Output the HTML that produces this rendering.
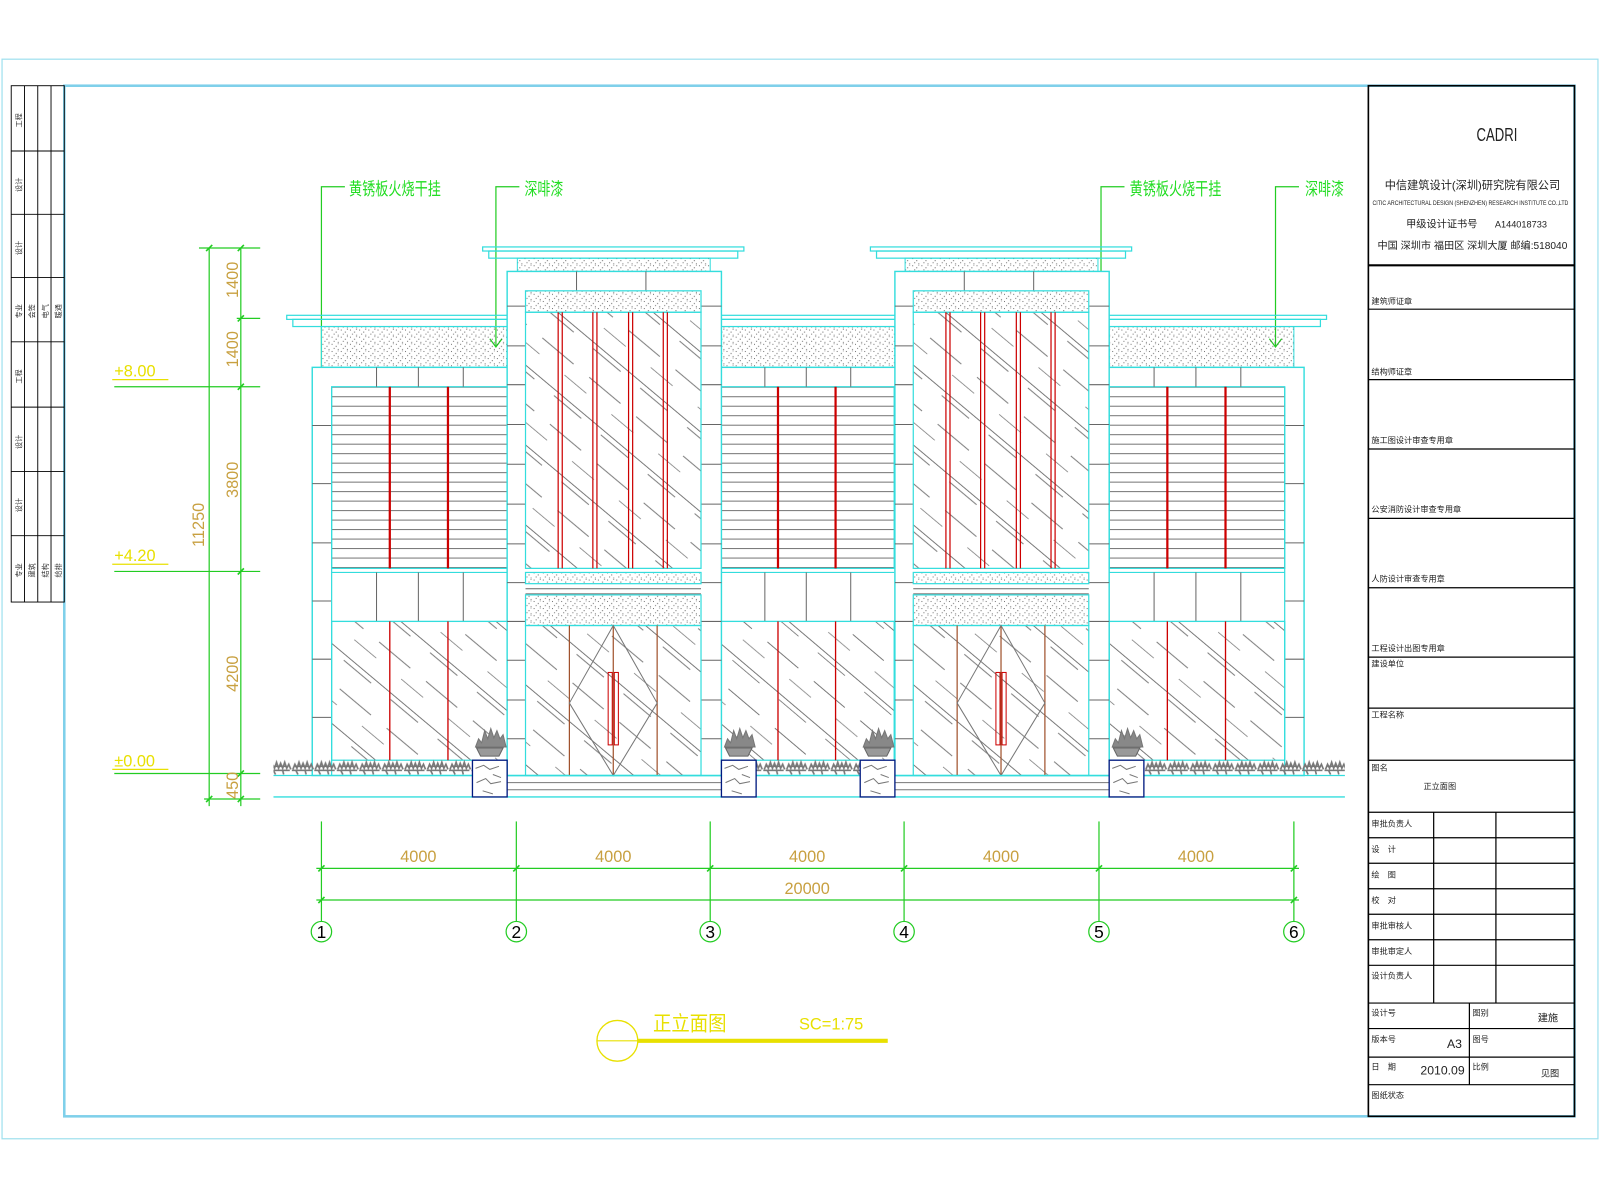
<!DOCTYPE html>
<html><head><meta charset="utf-8"><style>
html,body{margin:0;padding:0;background:#fff;}
svg{display:block}
text{font-family:"Liberation Sans","Noto Sans CJK SC",sans-serif;}
</style></head><body>
<svg width="1600" height="1200" viewBox="0 0 1568 1176" preserveAspectRatio="none" xmlns="http://www.w3.org/2000/svg">
<defs>
<pattern id="hatch" width="60" height="60" patternUnits="userSpaceOnUse" patternTransform="rotate(40)">
<line x1="0" y1="3" x2="60" y2="3" stroke="#666" stroke-width="0.8"/>
<line x1="5" y1="8" x2="40" y2="8" stroke="#666" stroke-width="0.8"/>
<line x1="20" y1="32" x2="60" y2="32" stroke="#666" stroke-width="0.8"/>
<line x1="0" y1="46" x2="28" y2="46" stroke="#777" stroke-width="0.7"/>
</pattern>
<pattern id="dots" width="9" height="7" patternUnits="userSpaceOnUse">
<rect x="1" y="1" width="0.9" height="0.9" fill="#555"/><rect x="5" y="3" width="0.9" height="0.9" fill="#444"/>
<rect x="3" y="5" width="0.9" height="0.9" fill="#555"/><rect x="7" y="6" width="0.9" height="0.9" fill="#666"/>
<rect x="7" y="0.5" width="0.8" height="0.8" fill="#666"/>
</pattern>
<pattern id="siding" width="10" height="9.3" patternUnits="userSpaceOnUse" y="379">
<line x1="0" y1="0.5" x2="10" y2="0.5" stroke="#666" stroke-width="0.9"/>
</pattern>
<pattern id="shrub" width="22" height="16" patternUnits="userSpaceOnUse" y="744">
<path d="M1 10 l2 -5 l2 4 l2 -6 l2 6 l2 -5 l2 5 l2 -6 l2 6 l2 -4 l2 5 M0 11 h20 M4 11 l2 4 M13 11 l1 4 M3 7 h14" stroke="#777" stroke-width="1.6" fill="none"/>
</pattern>
<g id="infill">
<rect x="0" y="379" width="172" height="178" fill="url(#siding)" stroke="#33dddd" stroke-width="1.2"/>
<line x1="57" y1="379" x2="57" y2="557" stroke="#c00" stroke-width="2.2"/>
<line x1="114" y1="379" x2="114" y2="557" stroke="#c00" stroke-width="2.2"/>
<line x1="0" y1="561" x2="172" y2="561" stroke="#33dddd" stroke-width="1.2"/>
<line x1="0" y1="609" x2="172" y2="609" stroke="#33dddd" stroke-width="1.2"/>
<line x1="44" y1="561" x2="44" y2="609" stroke="#666"/><line x1="85" y1="561" x2="85" y2="609" stroke="#666"/><line x1="129" y1="561" x2="129" y2="609" stroke="#666"/>
<line x1="44" y1="360" x2="44" y2="379" stroke="#666"/><line x1="85" y1="360" x2="85" y2="379" stroke="#666"/><line x1="129" y1="360" x2="129" y2="379" stroke="#666"/>
<rect x="0" y="609" width="172" height="136" fill="url(#hatch)" stroke="#33dddd" stroke-width="1.2"/>
<line x1="57" y1="609" x2="57" y2="745" stroke="#c00" stroke-width="1.3"/>
<line x1="114" y1="609" x2="114" y2="745" stroke="#c00" stroke-width="1.3"/>
</g>
<g id="tower">
<rect x="473" y="242" width="256" height="4" fill="none" stroke="#33dddd" stroke-width="1.2"/>
<rect x="479" y="246" width="244" height="7" fill="none" stroke="#33dddd" stroke-width="1.2"/>
<rect x="507" y="253" width="189" height="13" fill="url(#dots)" stroke="#33dddd" stroke-width="1"/>
<rect x="497" y="266" width="210" height="494" fill="#fff" stroke="#33dddd" stroke-width="1.4"/>
<line x1="565" y1="266" x2="565" y2="285" stroke="#666"/><line x1="633" y1="266" x2="633" y2="285" stroke="#666"/>
<g stroke="#666">
<line x1="497" y1="300" x2="515" y2="300"/><line x1="497" y1="339" x2="515" y2="339"/><line x1="497" y1="377" x2="515" y2="377"/><line x1="497" y1="416" x2="515" y2="416"/><line x1="497" y1="455" x2="515" y2="455"/><line x1="497" y1="494" x2="515" y2="494"/><line x1="497" y1="533" x2="515" y2="533"/><line x1="497" y1="571" x2="515" y2="571"/><line x1="497" y1="609" x2="515" y2="609"/><line x1="497" y1="647" x2="515" y2="647"/><line x1="497" y1="686" x2="515" y2="686"/><line x1="497" y1="724" x2="515" y2="724"/>
<line x1="687" y1="300" x2="707" y2="300"/><line x1="687" y1="339" x2="707" y2="339"/><line x1="687" y1="377" x2="707" y2="377"/><line x1="687" y1="416" x2="707" y2="416"/><line x1="687" y1="455" x2="707" y2="455"/><line x1="687" y1="494" x2="707" y2="494"/><line x1="687" y1="533" x2="707" y2="533"/><line x1="687" y1="571" x2="707" y2="571"/><line x1="687" y1="609" x2="707" y2="609"/><line x1="687" y1="647" x2="707" y2="647"/><line x1="687" y1="686" x2="707" y2="686"/><line x1="687" y1="724" x2="707" y2="724"/>
</g>
<rect x="515" y="285" width="172" height="21" fill="url(#dots)" stroke="#33dddd" stroke-width="1.2"/>
<rect x="515" y="306" width="172" height="251" fill="url(#hatch)" stroke="#33dddd" stroke-width="1.2"/>
<g stroke="#c00" stroke-width="1.2">
<line x1="547" y1="306" x2="547" y2="557"/><line x1="551" y1="306" x2="551" y2="557"/>
<line x1="581" y1="306" x2="581" y2="557"/><line x1="585" y1="306" x2="585" y2="557"/>
<line x1="616" y1="306" x2="616" y2="557"/><line x1="620" y1="306" x2="620" y2="557"/>
<line x1="650" y1="306" x2="650" y2="557"/><line x1="654" y1="306" x2="654" y2="557"/>
</g>
<rect x="515" y="561" width="172" height="11" fill="url(#dots)" stroke="#33dddd" stroke-width="1.2"/>
<line x1="515" y1="577" x2="687" y2="577" stroke="#666"/><line x1="515" y1="582" x2="687" y2="582" stroke="#666"/>
<rect x="515" y="583" width="172" height="30" fill="url(#dots)" stroke="#33dddd" stroke-width="1.2"/>
<rect x="515" y="613" width="172" height="147" fill="url(#hatch)" stroke="#33dddd" stroke-width="1.2"/>
<line x1="558" y1="613" x2="558" y2="760" stroke="#a0522d" stroke-width="1.2"/>
<line x1="644" y1="613" x2="644" y2="760" stroke="#a0522d" stroke-width="1.2"/>
<line x1="601" y1="613" x2="601" y2="760" stroke="#a0522d" stroke-width="1.2"/>
<polygon points="601,613 558,689 601,760 644,689" fill="none" stroke="#777"/>
<rect x="596" y="659" width="4" height="71" fill="none" stroke="#c00"/>
<rect x="602" y="659" width="4" height="71" fill="none" stroke="#c00"/>
</g>
<g id="pot">
<rect x="0" y="0" width="34" height="36" fill="#fff" stroke="#001a80" stroke-width="1.3"/>
<path d="M3 8 l8 -3 l6 4 l9 -3 M20 14 l8 3 M4 22 l9 -4 l5 5 l10 -2 M10 30 l10 3" stroke="#777" fill="none"/>
<path d="M4 -12 h26 l-4 8 h-18 z" fill="#999" stroke="#666"/>
<path d="M3 -13 l3 -8 l3 4 l3 -12 l3 8 l3 -10 l3 9 l3 -7 l3 8 l3 -4 l3 12 z" fill="#888" stroke="#777"/>
</g>
</defs>

<rect x="2" y="58" width="1564" height="1058" fill="none" stroke="#9fe0ee" stroke-width="1.2"/>
<rect x="63" y="84" width="1480" height="1010" fill="none" stroke="#7fd0ea" stroke-width="2.5"/>

<g stroke="#000" stroke-width="0.9" fill="none">
<rect x="11" y="84" width="52" height="506"/>
<line x1="24" y1="84" x2="24" y2="590"/><line x1="37" y1="84" x2="37" y2="590"/><line x1="50" y1="84" x2="50" y2="590"/>
<line x1="11" y1="148" x2="63" y2="148"/><line x1="11" y1="210" x2="63" y2="210"/><line x1="11" y1="272" x2="63" y2="272"/><line x1="11" y1="335" x2="63" y2="335"/><line x1="11" y1="399" x2="63" y2="399"/><line x1="11" y1="462" x2="63" y2="462"/><line x1="11" y1="525" x2="63" y2="525"/>
</g>
<g font-size="7" fill="#333">
<text transform="translate(21,125) rotate(-90)">工程</text><text transform="translate(21,188) rotate(-90)">设计</text><text transform="translate(21,250) rotate(-90)">设计</text><text transform="translate(21,312) rotate(-90)">专业</text><text transform="translate(34,312) rotate(-90)">会签</text><text transform="translate(47,312) rotate(-90)">电气</text><text transform="translate(60,312) rotate(-90)">暖通</text>
<text transform="translate(21,376) rotate(-90)">工程</text><text transform="translate(21,440) rotate(-90)">设计</text><text transform="translate(21,502) rotate(-90)">设计</text><text transform="translate(21,566) rotate(-90)">专业</text><text transform="translate(34,566) rotate(-90)">建筑</text><text transform="translate(47,566) rotate(-90)">结构</text><text transform="translate(60,566) rotate(-90)">给排</text>
</g>

<g stroke="#000" stroke-width="1.2" fill="none">
<rect x="1341" y="84" width="202" height="1010" stroke-width="1.6"/>
<line x1="1341" y1="260" x2="1543" y2="260" stroke-width="2"/>
<line x1="1341" y1="303" x2="1543" y2="303"/><line x1="1341" y1="372" x2="1543" y2="372"/><line x1="1341" y1="440" x2="1543" y2="440"/><line x1="1341" y1="508" x2="1543" y2="508"/><line x1="1341" y1="576" x2="1543" y2="576"/><line x1="1341" y1="644" x2="1543" y2="644"/><line x1="1341" y1="694" x2="1543" y2="694"/><line x1="1341" y1="745" x2="1543" y2="745"/><line x1="1341" y1="796" x2="1543" y2="796"/>
<line x1="1341" y1="821" x2="1543" y2="821"/><line x1="1341" y1="846" x2="1543" y2="846"/><line x1="1341" y1="871" x2="1543" y2="871"/><line x1="1341" y1="896" x2="1543" y2="896"/><line x1="1341" y1="921" x2="1543" y2="921"/><line x1="1341" y1="946" x2="1543" y2="946"/><line x1="1341" y1="983" x2="1543" y2="983"/>
<line x1="1341" y1="1008" x2="1543" y2="1008"/><line x1="1341" y1="1036" x2="1543" y2="1036"/><line x1="1341" y1="1063" x2="1543" y2="1063"/>
<line x1="1405" y1="796" x2="1405" y2="983"/><line x1="1466" y1="796" x2="1466" y2="983"/><line x1="1440" y1="983" x2="1440" y2="1063"/>
</g>
<g fill="#222">
<text x="1447" y="138" font-size="18" textLength="40" lengthAdjust="spacingAndGlyphs">CADRI</text>
<text x="1357" y="185" font-size="11" textLength="172" lengthAdjust="spacingAndGlyphs">中信建筑设计(深圳)研究院有限公司</text>
<text x="1345" y="201" font-size="6" textLength="192" lengthAdjust="spacingAndGlyphs">CITIC ARCHITECTURAL DESIGN (SHENZHEN) RESEARCH INSTITUTE CO.,LTD</text>
<text x="1378" y="223" font-size="10">甲级设计证书号</text><text x="1465" y="223" font-size="9">A144018733</text>
<text x="1350" y="244" font-size="10" textLength="186" lengthAdjust="spacingAndGlyphs">中国 深圳市 福田区 深圳大厦 邮编:518040</text>
<g font-size="8">
<text x="1344" y="298">建筑师证章</text><text x="1344" y="367">结构师证章</text><text x="1344" y="434">施工图设计审查专用章</text><text x="1344" y="502">公安消防设计审查专用章</text><text x="1344" y="570">人防设计审查专用章</text><text x="1344" y="638">工程设计出图专用章</text>
<text x="1344" y="653">建设单位</text><text x="1344" y="703">工程名称</text><text x="1344" y="755">图名</text><text x="1395" y="773">正立面图</text>
<text x="1344" y="810">审批负责人</text><text x="1344" y="835">设　计</text><text x="1344" y="860">绘　图</text><text x="1344" y="885">校　对</text><text x="1344" y="910">审批审核人</text><text x="1344" y="935">审批审定人</text><text x="1344" y="959">设计负责人</text>
<text x="1344" y="995">设计号</text><text x="1443" y="995">图别</text><text x="1507" y="1001" font-size="10">建施</text>
<text x="1344" y="1021">版本号</text><text x="1443" y="1021">图号</text><text x="1418" y="1027" font-size="12">A3</text>
<text x="1344" y="1048">日　期</text><text x="1392" y="1053" font-size="12">2010.09</text><text x="1443" y="1048">比例</text><text x="1510" y="1055" font-size="9">见图</text>
<text x="1344" y="1076">图纸状态</text>
</g></g>

<g stroke="#22cc22" stroke-width="1.2" fill="none">
<polyline points="338,183 315,183 315,385"/><polyline points="309,377 315,385 321,377"/>
<polyline points="509,183 486,183 486,340"/><polyline points="480,332 486,340 492,332"/>
<polyline points="1102,183 1079,183 1079,385"/><polyline points="1073,377 1079,385 1085,377"/>
<polyline points="1273,183 1250,183 1250,340"/><polyline points="1244,332 1250,340 1256,332"/>
</g>
<g fill="#22dd22" font-size="17">
<text x="342" y="191" textLength="90" lengthAdjust="spacingAndGlyphs">黄锈板火烧干挂</text><text x="514" y="191" textLength="38" lengthAdjust="spacingAndGlyphs">深啡漆</text>
<text x="1107" y="191" textLength="90" lengthAdjust="spacingAndGlyphs">黄锈板火烧干挂</text><text x="1279" y="191" textLength="38" lengthAdjust="spacingAndGlyphs">深啡漆</text>
</g>

<rect x="281" y="309" width="1019" height="4" fill="none" stroke="#33dddd" stroke-width="1.2"/>
<rect x="287" y="313" width="1007" height="7" fill="none" stroke="#33dddd" stroke-width="1.2"/>
<rect x="315" y="320" width="182" height="40" fill="url(#dots)" stroke="#33dddd" stroke-width="1"/>
<rect x="707" y="320" width="170" height="40" fill="url(#dots)" stroke="#33dddd" stroke-width="1"/>
<rect x="1087" y="320" width="181" height="40" fill="url(#dots)" stroke="#33dddd" stroke-width="1"/>
<rect x="306" y="360" width="972" height="400" fill="#fff" stroke="#33dddd" stroke-width="1.4"/>
<g stroke="#666">
<line x1="306" y1="417" x2="325" y2="417"/><line x1="306" y1="474" x2="325" y2="474"/><line x1="306" y1="532" x2="325" y2="532"/><line x1="306" y1="589" x2="325" y2="589"/><line x1="306" y1="646" x2="325" y2="646"/><line x1="306" y1="703" x2="325" y2="703"/>
<line x1="1259" y1="417" x2="1278" y2="417"/><line x1="1259" y1="474" x2="1278" y2="474"/><line x1="1259" y1="532" x2="1278" y2="532"/><line x1="1259" y1="589" x2="1278" y2="589"/><line x1="1259" y1="646" x2="1278" y2="646"/><line x1="1259" y1="703" x2="1278" y2="703"/>
</g>
<line x1="325" y1="379" x2="325" y2="760" stroke="#33dddd" stroke-width="1.2"/>
<line x1="1259" y1="379" x2="1259" y2="760" stroke="#33dddd" stroke-width="1.2"/>
<use href="#infill" transform="translate(325,0)"/>
<use href="#infill" transform="translate(706,0) scale(0.99,1)"/>
<use href="#infill" transform="translate(1087,0)"/>
<use href="#tower"/>
<use href="#tower" transform="translate(380,0)"/>

<rect x="268" y="744" width="200" height="16" fill="url(#shrub)"/>
<rect x="741" y="744" width="102" height="16" fill="url(#shrub)"/>
<rect x="1121" y="744" width="197" height="16" fill="url(#shrub)"/>
<line x1="268" y1="760" x2="1318" y2="760" stroke="#33dddd" stroke-width="1.3"/>
<line x1="268" y1="781" x2="1318" y2="781" stroke="#33dddd" stroke-width="1.3"/>
<g stroke="#777"><line x1="497" y1="767" x2="707" y2="767"/><line x1="497" y1="774" x2="707" y2="774"/><line x1="877" y1="767" x2="1087" y2="767"/><line x1="877" y1="774" x2="1087" y2="774"/></g>
<use href="#pot" transform="translate(463,745)"/>
<use href="#pot" transform="translate(707,745)"/>
<use href="#pot" transform="translate(843,745)"/>
<use href="#pot" transform="translate(1087,745)"/>

<g stroke="#22cc22" stroke-width="1.2">
<line x1="205" y1="243" x2="205" y2="790"/><line x1="236" y1="243" x2="236" y2="790"/>
<line x1="195" y1="243" x2="255" y2="243"/><line x1="232" y1="312" x2="255" y2="312"/>
<line x1="112" y1="379" x2="255" y2="379"/><line x1="112" y1="560" x2="255" y2="560"/><line x1="112" y1="758" x2="255" y2="758"/>
<line x1="200" y1="783" x2="255" y2="783"/>
<g stroke-width="1.6"><line x1="202" y1="246" x2="208" y2="240"/><line x1="233" y1="246" x2="239" y2="240"/><line x1="233" y1="315" x2="239" y2="309"/><line x1="233" y1="382" x2="239" y2="376"/><line x1="233" y1="563" x2="239" y2="557"/><line x1="233" y1="761" x2="239" y2="755"/><line x1="233" y1="786" x2="239" y2="780"/><line x1="202" y1="786" x2="208" y2="780"/></g>
</g>
<g fill="#c8a040" font-size="16">
<text transform="translate(233,292) rotate(-90)">1400</text>
<text transform="translate(233,360) rotate(-90)">1400</text>
<text transform="translate(233,488) rotate(-90)">3800</text>
<text transform="translate(233,678) rotate(-90)">4200</text>
<text transform="translate(233,783) rotate(-90)">450</text>
<text transform="translate(200,536) rotate(-90)">11250</text>
</g>
<g fill="#e8e000" font-size="16">
<text x="112" y="369">+8.00</text><text x="112" y="550">+4.20</text><text x="112" y="751">±0.00</text>
</g>
<g stroke="#e8e000" stroke-width="1.2"><line x1="110" y1="372" x2="165" y2="372"/><line x1="110" y1="553" x2="165" y2="553"/><line x1="110" y1="754" x2="165" y2="754"/></g>

<g stroke="#22cc22" stroke-width="1.2">
<line x1="315" y1="805" x2="315" y2="903"/><line x1="506" y1="805" x2="506" y2="903"/><line x1="696" y1="805" x2="696" y2="903"/><line x1="886" y1="805" x2="886" y2="903"/><line x1="1077" y1="805" x2="1077" y2="903"/><line x1="1268" y1="805" x2="1268" y2="903"/>
<line x1="310" y1="851" x2="1273" y2="851"/><line x1="310" y1="882" x2="1273" y2="882"/>
<g stroke-width="1.6"><line x1="312" y1="854" x2="318" y2="848"/><line x1="503" y1="854" x2="509" y2="848"/><line x1="693" y1="854" x2="699" y2="848"/><line x1="883" y1="854" x2="889" y2="848"/><line x1="1074" y1="854" x2="1080" y2="848"/><line x1="1265" y1="854" x2="1271" y2="848"/><line x1="312" y1="885" x2="318" y2="879"/><line x1="1265" y1="885" x2="1271" y2="879"/></g>
<g fill="#fff"><circle cx="315" cy="913" r="10"/><circle cx="506" cy="913" r="10"/><circle cx="696" cy="913" r="10"/><circle cx="886" cy="913" r="10"/><circle cx="1077" cy="913" r="10"/><circle cx="1268" cy="913" r="10"/></g>
</g>
<g fill="#c8a040" font-size="16" text-anchor="middle">
<text x="410" y="845">4000</text><text x="601" y="845">4000</text><text x="791" y="845">4000</text><text x="981" y="845">4000</text><text x="1172" y="845">4000</text><text x="791" y="876">20000</text>
</g>
<g fill="#000" font-size="17" text-anchor="middle">
<text x="315" y="919">1</text><text x="506" y="919">2</text><text x="696" y="919">3</text><text x="886" y="919">4</text><text x="1077" y="919">5</text><text x="1268" y="919">6</text>
</g>

<circle cx="605" cy="1020" r="20" fill="none" stroke="#e8e000" stroke-width="1.3"/>
<line x1="585" y1="1020" x2="625" y2="1020" stroke="#e8e000" stroke-width="1.2"/>
<line x1="625" y1="1020" x2="870" y2="1020" stroke="#e8e000" stroke-width="4"/>
<text x="640" y="1010" font-size="20" fill="#e8e000" textLength="72" lengthAdjust="spacingAndGlyphs">正立面图</text>
<text x="783" y="1009" font-size="16" fill="#e8e000" textLength="63" lengthAdjust="spacingAndGlyphs">SC=1:75</text>
</svg>
</body></html>
